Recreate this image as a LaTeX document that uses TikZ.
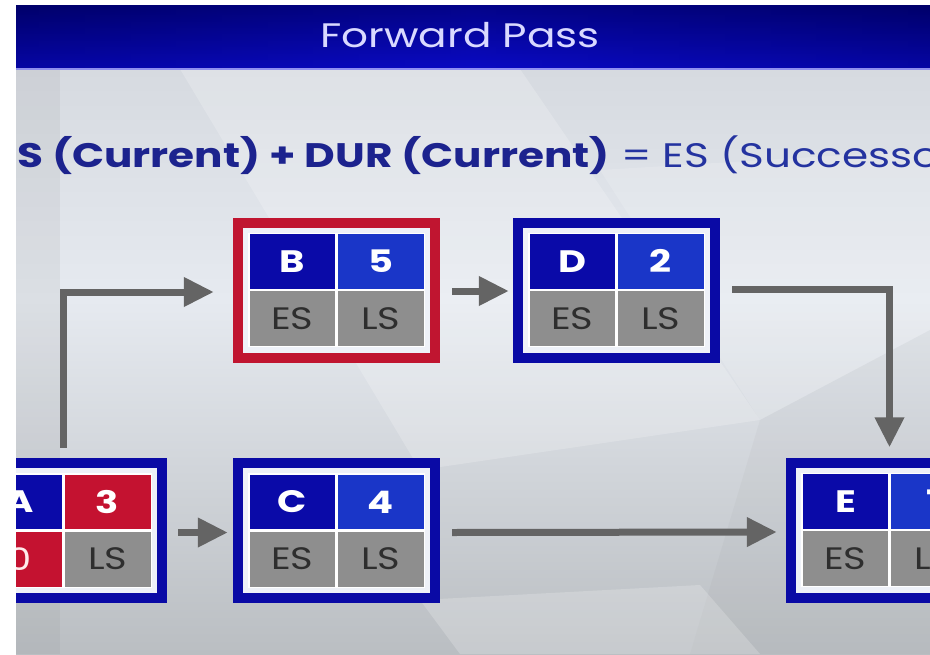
\documentclass[tikz,border=0pt]{standalone}
\usepackage{fontspec}
\setmainfont{Poppins}[FakeStretch=1.24]
\usetikzlibrary{arrows.meta}
\definecolor{hdrdark}{HTML}{00006A}
\definecolor{hdrblue}{HTML}{0A0AC4}
\definecolor{boxblue}{HTML}{0A0AA5}
\definecolor{boxred}{HTML}{C01530}
\definecolor{cellblue}{HTML}{0A0AA8}
\definecolor{cellblueB}{HTML}{1A36C8}
\definecolor{cellred}{HTML}{C41230}
\definecolor{cellgray}{HTML}{8E8E8E}
\definecolor{txtgray}{HTML}{2E2E2E}
\definecolor{arrgray}{HTML}{646464}
\definecolor{navy}{HTML}{1C238E}
\definecolor{formblue}{HTML}{2433A0}
\definecolor{bgtop}{HTML}{D6DAE0}
\definecolor{bgmid}{HTML}{E6EAF0}
\definecolor{bgbot}{HTML}{BABEC2}
\definecolor{innerw}{HTML}{EEF1F8}
\tikzset{
 outerbox/.style={minimum width=207pt, minimum height=145pt, inner sep=0pt, draw=none},
 cell/.style={minimum width=87pt, minimum height=56pt, inner sep=0pt, draw=white, line width=1.2pt},
 headcell/.style={cell, text=white, font=\fontsize{31}{31}\selectfont\bfseries},
 bodycell/.style={cell, text=txtgray, font=\fontsize{31}{31}\selectfont},
 arr/.style={draw=arrgray, line width=7pt, line join=miter, -{Triangle[length=30pt,width=28pt]}},
}
\newcommand{\taskbox}[9]{%
 \node[outerbox, fill=#3] (#1) at (#2) {};
 \fill[innerw] ([shift={(-93.5pt,-62.5pt)}]#1.center) rectangle ([shift={(93.5pt,62.5pt)}]#1.center);
 \node[headcell, fill=#4, anchor=south east] (#1-tl) at (#1.center) {#5};
 \node[headcell, fill=#6, anchor=south west] (#1-tr) at (#1.center) {#7};
 \node[bodycell, fill=#8, anchor=north east] (#1-bl) at (#1.center) {#9};
 \node[bodycell, fill=cellgray, anchor=north west] (#1-br) at (#1.center) {LS};
}
\begin{document}
\begin{tikzpicture}[x=1pt,y=-1pt]
\useasboundingbox (0,0) rectangle (930,654);
\fill[white] (0,0) rectangle (930,654);
\begin{scope}
\clip (16,5) rectangle (930,654);
% background
\shade[top color=bgtop, bottom color=bgmid] (16,69) rectangle (930,300);
\shade[top color=bgmid, bottom color=bgbot] (16,300) rectangle (930,654);
\fill[white, opacity=0.2] (180,69) -- (520,69) -- (760,420) -- (420,470) -- cycle;
\fill[white, opacity=0.15] (600,170) -- (930,150) -- (930,330) -- (760,420) -- cycle;
\fill[gray, opacity=0.10] (16,69) -- (60,69) -- (60,654) -- (16,654) -- cycle;
\fill[gray, opacity=0.06] (760,420) -- (930,330) -- (930,654) -- (690,654) -- cycle;
\fill[white, opacity=0.2] (420,600) -- (700,585) -- (760,654) -- (460,654) -- cycle;
% header
\shade[top color=hdrdark, bottom color=hdrblue] (16,5) rectangle (930,69);
\shade[left color=hdrdark, right color=hdrdark, middle color=hdrblue, opacity=0.35] (16,5) rectangle (930,69);
\fill[blue!30!white, opacity=0.8] (16,68) rectangle (930,70);
\node[font=\fontsize{34}{34}\selectfont, text=white!85!blue] (title) at (460,35) {Forward Pass};
% formula
\node[anchor=base west, inner sep=0pt, font=\fontsize{34}{34}\selectfont] (formula) at (17,167)
 {\textcolor{navy}{\bfseries S (Current) + DUR (Current)} \textcolor{formblue}{= ES (Successo}};
% boxes
\taskbox{B}{336.5,290}{boxred}{cellblue}{B}{cellblueB}{5}{cellgray}{ES}
\taskbox{D}{616.5,290}{boxblue}{cellblue}{D}{cellblueB}{2}{cellgray}{ES}
\taskbox{A}{63.5,530.5}{boxblue}{cellblue}{A}{cellred}{3}{cellred}{\textcolor{white!92!red}{0}}
\taskbox{C}{336.5,530.5}{boxblue}{cellblue}{C}{cellblueB}{4}{cellgray}{ES}
\taskbox{E}{889.5,530}{boxblue}{cellblue}{E}{cellblueB}{1}{cellgray}{ES}
% connectors
\draw[arr] ([yshift=10pt]A.north) |- ([xshift=-19pt,yshift=-2pt]B.west);
\draw[arr] ([xshift=12pt,yshift=-1pt]B.east) -- ([xshift=-4pt,yshift=-1pt]D.west);
\draw[arr] ([xshift=12pt,yshift=1pt]D.east) -| ([yshift=10pt]E.north);
\draw[arr] ([xshift=11pt,yshift=-2pt]A.east) -- ([xshift=-5pt,yshift=-2pt]C.west);
\draw[arr] ([xshift=12pt,yshift=-2pt]C.east) -- ([xshift=-9pt,yshift=-2pt]E.west);
\end{scope}
\end{tikzpicture}
\end{document}
